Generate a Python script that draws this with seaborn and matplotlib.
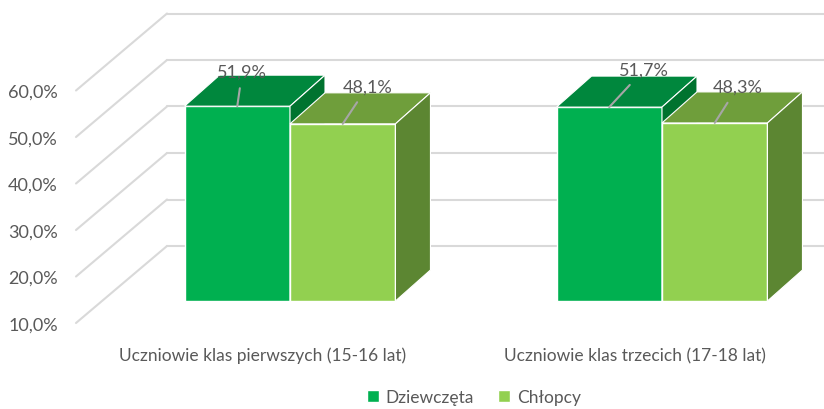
import pandas as pd
import matplotlib
matplotlib.use("Agg")
import matplotlib.pyplot as plt
from matplotlib.patches import Polygon
import seaborn as sns

# Data
groups = ["Uczniowie klas pierwszych (15-16 lat)", "Uczniowie klas trzecich (17-18 lat)"]
series = ["Dziewczęta", "Chłopcy"]
girls = [51.9, 51.7]
boys = [48.1, 48.3]
ticks = [10, 20, 30, 40, 50, 60]

df = pd.DataFrame({
    "grupa": groups * 2,
    "plec": [series[0]] * len(groups) + [series[1]] * len(groups),
    "proc": girls + boys,
})

sns.set_style("white")
plt.rcParams["font.family"] = ["Lato", "DejaVu Sans"]

TXT = "#595959"
GRID = "#D9D9D9"
front_cols = {series[0]: "#00B050", series[1]: "#92D050"}
top_cols = {series[0]: "#00873D", series[1]: "#6F9E3B"}
side_cols = {series[0]: "#00732F", series[1]: "#5C8632"}

W, H = 824, 410
fig = plt.figure(figsize=(W / 100, H / 100), dpi=100)
ax = fig.add_axes([0, 0, 1, 1])

# pseudo-3D geometry (pixels)
px_x = 372.0      # px per category step
px_y = 4.65       # px per percent
x0_px = 290       # first group centre
base = 10
base_px = 302
ddx = 35 / px_x   # depth offset of bars
ddy = 31 / px_y

sns.barplot(data=df, x="grupa", y="proc", hue="plec", palette=front_cols,
            width=0.567, saturation=1, edgecolor="white", linewidth=1, ax=ax)

ax.set_xlim(-x0_px / px_x, (W - x0_px) / px_x)
ax.set_ylim(base - (H - base_px) / px_y, base + base_px / px_y)
ax.axis("off")

# walls / gridlines
xl, xb = (76 - x0_px) / px_x, (167 - x0_px) / px_x
for t in ticks:
    yl = t - 22 / px_y
    yb = t + 55 / px_y
    ax.plot([xl, xb], [yl, yb], color=GRID, lw=1.5, zorder=1)
    ax.plot([xb, ax.get_xlim()[1]], [yb, yb], color=GRID, lw=1.5, zorder=1)
    ax.text((58 - x0_px) / px_x, yl, f"{t:.1f}%".replace(".", ","),
            ha="right", va="center_baseline", fontsize=13, color=TXT)

# 3D faces + labels
label_offsets = [[(3.6, 25), (25, 27)], [(18, 27), (16.5, 26)]]
for i, (cont, name) in enumerate(zip(ax.containers, series)):
    for j, bar in enumerate(cont):
        x1 = bar.get_x()
        w = bar.get_width()
        top = bar.get_height()
        bar.set_y(base)
        bar.set_height(top - base)
        bar.set_zorder(3 + i)
        x2 = x1 + w
        topface = Polygon([(x1, top), (x2, top), (x2 + ddx, top + ddy), (x1 + ddx, top + ddy)],
                          closed=True, fc=top_cols[name], ec="white", lw=0.8, zorder=3 + i)
        side = Polygon([(x2, base), (x2, top), (x2 + ddx, top + ddy), (x2 + ddx, base + ddy)],
                       closed=True, fc=side_cols[name], ec="white", lw=0.8, zorder=3 + i)
        ax.add_patch(topface)
        ax.add_patch(side)
        ax.annotate(f"{top:.1f}%".replace(".", ","), xy=(x1 + w / 2, top),
                    xytext=label_offsets[i][j], textcoords="offset points",
                    ha="center", va="center", fontsize=13, color=TXT, zorder=10,
                    arrowprops=dict(arrowstyle="-", color="#A6A6A6", lw=1.5,
                                    shrinkA=4, shrinkB=0))

# category labels
for k, g in enumerate(groups):
    ax.text(k - 27 / px_x, base - 54 / px_y, g, ha="center", va="center",
            fontsize=12.5, color=TXT)

handles, labels = ax.get_legend_handles_labels()
ax.legend(handles, labels, loc="center", bbox_to_anchor=(474 / W, 1 - 398 / H),
          bbox_transform=fig.transFigure, ncol=2, frameon=False,
          handlelength=0.7, handleheight=0.7, handletextpad=0.4,
          columnspacing=1.4, fontsize=12.5, labelcolor=TXT)

fig.savefig("out.png", dpi=100)
